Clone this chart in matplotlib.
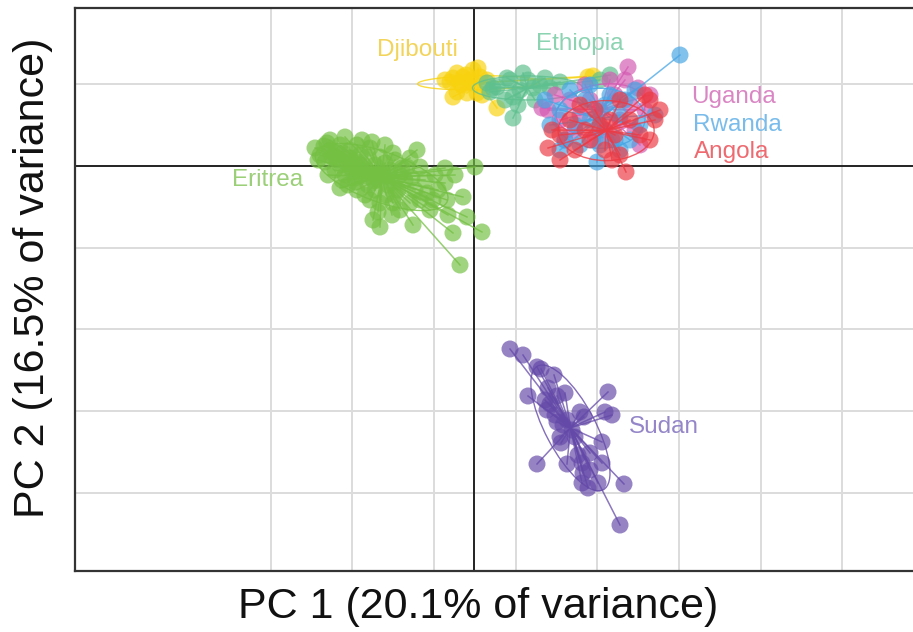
import numpy as np
import matplotlib
matplotlib.use("Agg")
import matplotlib.pyplot as plt
from matplotlib.patches import Ellipse

plt.rcParams['font.family'] = ['Liberation Sans', 'DejaVu Sans']

# PCA scores (arbitrary units; 1 grid cell = 81.7 units)
UNIT = 81.7

groups = ["Eritrea", "Sudan", "Djibouti", "Ethiopia", "Uganda", "Rwanda", "Angola"]

eritrea_pc1 = [-159, -147, -129, -117, -137, -124, -107, -94, -81, -57, -67, -54, -29, 1, -91, -74,
               -134, -117, -104, -94, -81, -64, -47, -29, -41, -27, -11, -44, -26, -7, -94, -101,
               -61, -21, 8, -14, -154, -144, -149, -139, -129, -119, -109, -99, -89, -79, -144, -134,
               -124, -114, -104, -114, -124, -134, -119, -106, -96, -86, -76, -69, -62, -84, -72, -64,
               -156, -146, -132, -114, -99, -88, -112, -102, -89, -131, -142, -126, -79, -59, -49, -39,
               -19, -36, -54, -74, -82, -96, -109, -122, -150, -138, -127, -116, -108, -97, -86, -140,
               -120, -100]
eritrea_pc2 = [18, 23, 29, 21, 6, -1, 9, 9, 13, 16, -1, -1, -2, -1, -7, -9,
               -22, -24, -34, -37, -37, -37, -27, -17, -34, -34, -31, -44, -49, -51, -61, -54,
               -59, -67, -66, -99, 11, 16, 4, -4, -9, -12, -4, 1, 3, 6, 26, 21,
               16, 11, 18, 1, 8, 1, -16, -19, -14, -19, -24, -14, -12, -4, -2, 8,
               6, -9, -14, -9, -24, -29, 26, 24, 21, 13, 9, -19, -29, -24, -14, -9,
               -9, -24, -34, -44, -49, -46, -29, -2, 20, 14, 3, -5, -10, -8, -9, 10,
               5, -15]

sudan_pc1 = [36, 49, 63, 67, 80, 54, 71, 76, 91, 83, 73, 83, 93, 106, 110, 134, 131, 138,
             86, 87, 101, 128, 63, 93, 108, 116, 128, 109, 108, 114, 124, 150, 146,
             89, 98, 81, 116, 104, 74]
sudan_pc2 = [-183, -189, -201, -203, -209, -230, -234, -238, -227, -230, -244, -256, -254, -246,
             -251, -226, -246, -249, -271, -277, -271, -276, -298, -298, -297, -287, -297, -307,
             -317, -322, -317, -318, -359, -259, -264, -249, -304, -289, -222]

djibouti_pc1 = [-17, -11, -4, 4, 6, -24, -17, -7, 3, 8, 23, -14, -2, -21, -12, -21, -1, -8, 13, -29,
                114, 119]
djibouti_pc2 = [93, 89, 86, 98, 89, 84, 74, 73, 73, 71, 58, 83, 83, 88, 81, 69, 96, 91, 86, 86,
                89, 90]

ethiopia_pc1 = [19, 36, 49, 39, 46, 59, 39, 33, 23, 13, 54, 66, 76, 71, 86, 31, 44, 136, 126, 61, 16]
ethiopia_pc2 = [78, 86, 93, 69, 76, 78, 48, 88, 79, 83, 86, 81, 78, 88, 84, 66, 61, 91, 86, 66, 74]

uganda_pc1 = [154, 151, 164, 68, 74, 141, 126, 106, 116, 146, 161, 171, 86, 96, 131, 138, 176,
              101, 121, 81, 156, 111, 136, 91, 166]
uganda_pc2 = [99, 86, 78, 58, 56, 71, 56, 51, 66, 46, 36, 56, 46, 66, 36, 26, 71, 36, 26, 71,
              61, 81, 86, 26, 21]

rwanda_pc1 = [206, 123, 86, 101, 116, 131, 146, 166, 91, 106, 126, 141, 156, 76, 71, 136, 151,
              111, 96, 126, 181, 116, 161, 86, 146]
rwanda_pc2 = [111, 4, 56, 41, 46, 61, 51, 41, 26, 21, 21, 26, 26, 41, 66, 71, 66, 66, 76, 36,
              51, 81, 76, 16, 16]

angola_pc1 = [86, 152, 138, 181, 176, 74, 101, 116, 131, 146, 166, 176, 156, 136, 126, 111, 96,
              86, 171, 186, 146, 121, 106, 141, 78]
angola_pc2 = [6, -6, 6, 46, 66, 18, 16, 26, 16, 11, 31, 26, 46, 46, 41, 36, 46, 31, 71, 56, 66,
              56, 61, 31, 36]

# ellipse semi-axes (same units) and angle in degrees
ell_a = [70, 70, 61, 55, 45, 45, 48]
ell_b = [25, 25, 7, 12, 25, 30, 30]
ell_angle = [-20, -62, 1, 0, 10, 0, 0]

# label positions (same units)
label_x = [-206, 190, -57, 106, 259, 263, 258]
label_y = [-14, -261, 116, 122, 69, 41, 14]

colors = ["#74C043", "#6449A8", "#F8D20E", "#5EC08E", "#D45AB2", "#45A5E5", "#EC3A44"]
label_colors = ["#9BCF78", "#9486C8", "#F2D45A", "#8CD3B2", "#DA86C4", "#79BCEB", "#EE6A70"]

pc1 = [eritrea_pc1, sudan_pc1, djibouti_pc1, ethiopia_pc1, uganda_pc1, rwanda_pc1, angola_pc1]
pc2 = [eritrea_pc2, sudan_pc2, djibouti_pc2, ethiopia_pc2, uganda_pc2, rwanda_pc2, angola_pc2]

W, H = 913, 632
fig = plt.figure(figsize=(W / 100, H / 100), dpi=100)
left_px, right_px, top_px, bottom_px = 75, 930, 8, 571
ax = fig.add_axes([left_px / W, 1 - bottom_px / H, (right_px - left_px) / W, (bottom_px - top_px) / H])

ox, oy = 474, 166
ax.set_xlim((left_px - ox) / UNIT, (right_px - ox) / UNIT)
ax.set_ylim((oy - bottom_px) / UNIT, (oy - top_px) / UNIT)

# grid
for gx in np.arange(-2.49, 5.0, 1.0):
    ax.axvline(gx, color="#DCDCDC", lw=1.4, zorder=0)
for gy in [1, -1, -2, -3, -4]:
    ax.axhline(gy, color="#DCDCDC", lw=1.4, zorder=0)
ax.axvline(0, color="#222222", lw=1.4, zorder=1)
ax.axhline(0, color="#222222", lw=1.4, zorder=1)

for i, g in enumerate(groups):
    x = np.array(pc1[i]) / UNIT
    y = np.array(pc2[i]) / UNIT
    cx, cy = x.mean(), y.mean()
    c = colors[i]
    for xi, yi in zip(x, y):
        ax.plot([cx, xi], [cy, yi], color=c, lw=1.1, alpha=0.75, zorder=2 + i)
    ax.add_patch(Ellipse((cx, cy), 2 * ell_a[i] / UNIT, 2 * ell_b[i] / UNIT, angle=ell_angle[i],
                         fill=False, edgecolor=c, lw=1.0, alpha=0.8, zorder=2 + i))
    ax.scatter(x, y, s=150, color=c, alpha=0.68, edgecolors="none", zorder=2 + i)
    ax.text(label_x[i] / UNIT, label_y[i] / UNIT, g, color=label_colors[i], fontsize=17.5,
            ha="center", va="center", zorder=20)

ax.set_xticks([])
ax.set_yticks([])
for s in ["left", "top", "bottom", "right"]:
    ax.spines[s].set_color("#333333")
    ax.spines[s].set_linewidth(1.6)

fig.text(478 / W, 1 - 607 / H, "PC 1 (20.1% of variance)", fontsize=31, color="#111111",
         ha="center", va="center")
fig.text(33 / W, 1 - 278 / H, "PC 2 (16.5% of variance)", fontsize=31, color="#111111",
         ha="center", va="center", rotation=90)

fig.savefig("out.png", dpi=100)
